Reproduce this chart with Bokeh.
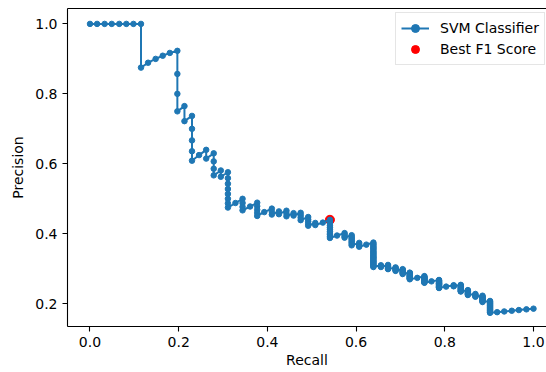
from bokeh.plotting import figure
from bokeh.models import Range1d, FixedTicker, LinearAxis, Legend, LegendItem, PrintfTickFormatter
from bokeh.embed import file_html
from bokeh.resources import INLINE

# ---- data ----
recall_steps = [0.000, 0.016, 0.033, 0.049, 0.066, 0.082, 0.098, 0.115, 0.131, 0.148,
                0.164, 0.180, 0.197, 0.213, 0.230, 0.246, 0.262, 0.279, 0.295, 0.311,
                0.328, 0.344, 0.361, 0.377, 0.393, 0.410, 0.426, 0.443, 0.459, 0.475,
                0.492, 0.508, 0.525, 0.541, 0.557, 0.574, 0.590, 0.607, 0.623, 0.639,
                0.656, 0.672, 0.689, 0.705, 0.721, 0.738, 0.754, 0.770, 0.787, 0.803,
                0.820, 0.836, 0.852, 0.869, 0.885, 0.902, 0.918, 0.934, 0.951, 0.967,
                0.984, 1.000]

precision_by_step = [
    [1.0], [1.0], [1.0], [1.0], [1.0], [1.0], [1.0],
    [1.0, 0.875],
    [0.889], [0.900], [0.909], [0.917],
    [0.923, 0.857, 0.800, 0.750],
    [0.765, 0.722],
    [0.737, 0.700, 0.667, 0.636, 0.609],
    [0.625],
    [0.640, 0.615],
    [0.630, 0.607, 0.586, 0.567],
    [0.581, 0.563],
    [0.576, 0.559, 0.543, 0.528, 0.514, 0.500, 0.487, 0.475],
    [0.488],
    [0.500, 0.488, 0.477, 0.467],
    [0.478],
    [0.489, 0.479, 0.469, 0.460, 0.451],
    [0.462],
    [0.472, 0.463, 0.455],
    [0.464, 0.456],
    [0.466, 0.458, 0.450],
    [0.459, 0.452],
    [0.460, 0.453, 0.446, 0.439],
    [0.448, 0.441, 0.435, 0.429, 0.423],
    [0.431, 0.425],
    [0.432],
    [0.440, 0.434, 0.429, 0.423, 0.418, 0.413, 0.407, 0.402, 0.398, 0.393, 0.388],
    [0.395],
    [0.402, 0.398, 0.393, 0.389],
    [0.396, 0.391, 0.387, 0.383, 0.379, 0.375, 0.371, 0.367],
    [0.374, 0.370, 0.366, 0.363],
    [0.369],
    [0.375, 0.371, 0.368, 0.364, 0.361, 0.358, 0.355, 0.351, 0.348, 0.345, 0.342, 0.339,
     0.336, 0.333, 0.331, 0.328, 0.325, 0.322, 0.320, 0.317, 0.315, 0.312, 0.310, 0.307, 0.305],
    [0.310, 0.308, 0.305],
    [0.311, 0.308, 0.306, 0.304, 0.301, 0.299],
    [0.304, 0.302, 0.300, 0.298, 0.296, 0.294],
    [0.299, 0.297, 0.295, 0.293, 0.291, 0.289, 0.287, 0.285],
    [0.289, 0.288, 0.286, 0.284, 0.282, 0.280, 0.278, 0.277, 0.275, 0.273, 0.272, 0.270],
    [0.274],
    [0.279, 0.277, 0.275, 0.274, 0.272, 0.271, 0.269, 0.267, 0.266, 0.264, 0.263, 0.261, 0.260],
    [0.264],
    [0.268, 0.267, 0.265, 0.264, 0.262, 0.261, 0.259, 0.258, 0.257, 0.255, 0.254, 0.253,
     0.251, 0.250, 0.249, 0.247, 0.246, 0.245],
    [0.249],
    [0.253, 0.251, 0.250],
    [0.254, 0.252, 0.250, 0.248, 0.246, 0.244, 0.242, 0.240, 0.238, 0.236, 0.235],
    [0.239, 0.237, 0.235, 0.233, 0.231, 0.229, 0.227, 0.225],
    [0.228, 0.226, 0.224, 0.222, 0.220],
    [0.223, 0.221, 0.219, 0.217, 0.215, 0.213, 0.211, 0.209, 0.207, 0.205],
    [0.208, 0.206, 0.204, 0.202, 0.200, 0.198, 0.196, 0.194, 0.192, 0.190, 0.188, 0.186,
     0.184, 0.182, 0.180, 0.178, 0.176, 0.174],
    [0.176], [0.178], [0.180], [0.182], [0.184], [0.186],
]

best_f1_recall = [0.541]
best_f1_precision = [0.440]

x_ticks = [0.0, 0.2, 0.4, 0.6, 0.8, 1.0]
y_ticks = [0.2, 0.4, 0.6, 0.8, 1.0]

series_label = "SVM Classifier"
best_label = "Best F1 Score"

# flatten the per-recall groups into the plotted points
recall = []
precision = []
for r, ps in zip(recall_steps, precision_by_step):
    for pv in ps:
        recall.append(r)
        precision.append(pv)

FONT = "DejaVu Sans"
BLUE = "#1f77b4"

p = figure(width=546, height=372, output_backend="svg", toolbar_location=None,
           x_range=Range1d(-0.0507, 1.0293), y_range=Range1d(0.135, 1.044),
           min_border_left=67, min_border_right=0, min_border_top=8, min_border_bottom=46)
p.outline_line_color = None
p.grid.visible = False
p.background_fill_color = "white"
p.border_fill_color = "white"

def style_axis(ax, ticks, label):
    ax.ticker = FixedTicker(ticks=ticks)
    ax.formatter = PrintfTickFormatter(format="%.1f")
    ax.axis_label = label
    ax.axis_label_text_font = FONT
    ax.axis_label_text_font_size = "14px"
    ax.axis_label_text_font_style = "normal"
    ax.axis_label_text_color = "black"
    ax.major_label_text_font = FONT
    ax.major_label_text_font_size = "14px"
    ax.major_label_text_color = "black"
    ax.axis_line_color = "black"
    ax.axis_line_width = 1.1
    ax.major_tick_line_color = "black"
    ax.major_tick_line_width = 1.1
    ax.major_tick_out = 5
    ax.major_tick_in = 0
    ax.minor_tick_line_color = None
    ax.major_label_standoff = 5

style_axis(p.xaxis[0], x_ticks, "Recall")
style_axis(p.yaxis[0], y_ticks, "Precision")
p.xaxis[0].axis_label_standoff = 2
p.yaxis[0].axis_label_standoff = 6

# top spine only (no ticks, no labels)
top = LinearAxis(ticker=FixedTicker(ticks=[]), axis_line_color="black", axis_line_width=1.1,
                 major_tick_line_color=None, minor_tick_line_color=None,
                 major_label_standoff=0, major_tick_out=0, major_tick_in=0)
p.add_layout(top, "above")

red = p.scatter(best_f1_recall, best_f1_precision, size=9, fill_color="red", line_color="red")
ln = p.line(recall, precision, line_color=BLUE, line_width=2)
dots = p.scatter(recall, precision, size=5.5, fill_color=BLUE, line_color=BLUE)

legend = Legend(items=[LegendItem(label=series_label, renderers=[ln, dots]),
                       LegendItem(label=best_label, renderers=[red])],
                location=(328, 261))
legend.label_text_font = FONT
legend.label_text_font_size = "14px"
legend.label_text_color = "black"
legend.border_line_color = "#cccccc"
legend.border_line_width = 1
legend.background_fill_color = "white"
legend.background_fill_alpha = 0.8
legend.glyph_width = 28
legend.glyph_height = 20
legend.label_height = 20
legend.label_standoff = 11
legend.padding = 5
legend.spacing = 1
legend.margin = 0
p.add_layout(legend)

open("out.html", "w").write(file_html(p, INLINE))
